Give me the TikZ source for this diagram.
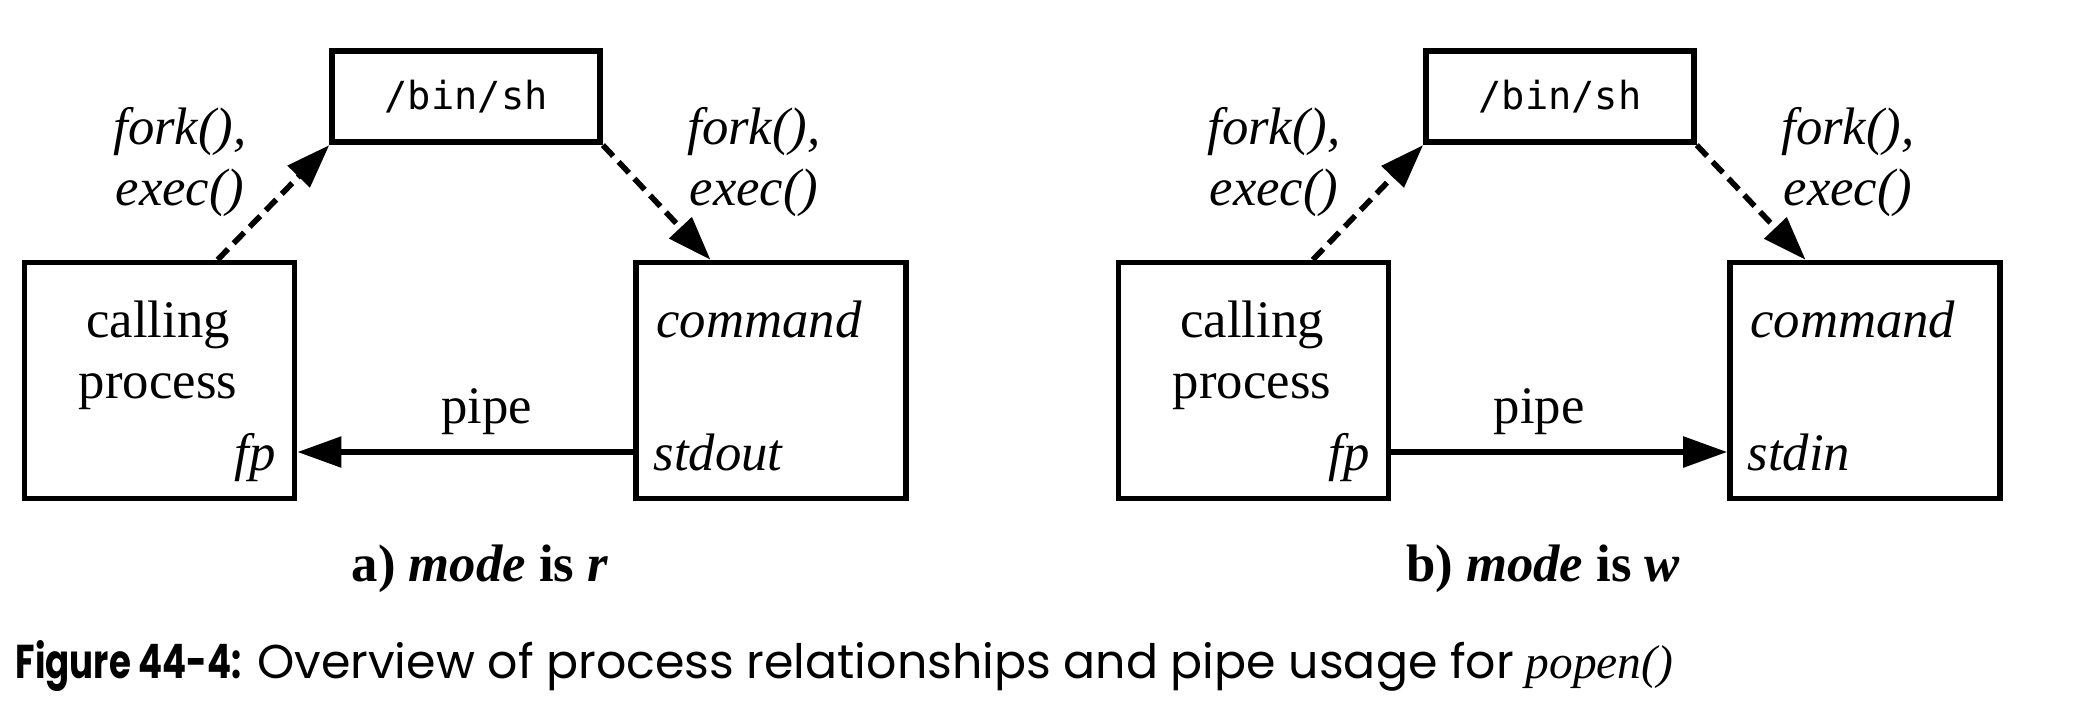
\documentclass[tikz,border=0pt]{standalone}
\usepackage{fontspec}
\setmainfont{Liberation Serif}
\setmonofont{DejaVu Sans Mono}
\newfontfamily\figfont{Poppins}
\newfontfamily\figboldfont{Poppins}[FakeStretch=0.75]
\usetikzlibrary{arrows.meta,positioning}

\begin{document}
\begin{tikzpicture}[
    procbox/.style={draw,line width=1.6pt,minimum width=2.70cm,minimum height=2.36cm,inner sep=0pt},
    shbox/.style={draw,line width=1.6pt,minimum width=2.68cm,minimum height=0.91cm,inner sep=0pt,
      font=\fontsize{11}{13}\selectfont\ttfamily},
    lbl/.style={font=\fontsize{15}{17.4}\selectfont,inner sep=0pt},
    ilbl/.style={font=\fontsize{15}{17.1}\selectfont\itshape,inner sep=0pt},
    sublbl/.style={font=\fontsize{15}{17}\selectfont\bfseries,inner sep=0pt},
    forkarrow/.style={line width=1.6pt,dash pattern=on 0.15cm off 0.08cm,
      -{Triangle[length=0.44cm,width=0.30cm]}},
    pipearrow/.style={line width=1.6pt,-{Triangle[length=0.44cm,width=0.30cm]}}
  ]
  \useasboundingbox (0,0) rectangle (20.94,7.0);

  % ---- a) mode is r ------------------------------------------
  \node[procbox] (callA) at (1.596,3.194) {};
  \node[shbox]   (shA)   at (4.661,6.032) {/bin/sh};
  \node[procbox] (cmdA)  at (7.712,3.194) {};

  % texts inside the boxes
  \node[lbl,align=center] (callAtxt) at (1.58,3.447) {calling\\process};
  \node[ilbl,anchor=base east] (fpA) at (2.764,2.30) {fp};
  \node[ilbl,anchor=base west] (cmdAtxt) at (6.557,3.63) {command};
  \node[ilbl,anchor=base west] (stdoutA) at (6.53,2.30) {stdout};

  % fork/exec arrows
  \draw[forkarrow] ([xshift=0.58cm]callA.north) -- (shA.south west);
  \draw[forkarrow] (shA.south east) -- ([xshift=-0.607cm]cmdA.north);
  \node[ilbl,align=center] (forkA1) at (1.80,5.38) {fork(),\\exec()};
  \node[ilbl,align=center] (forkA2) at (7.54,5.38) {fork(),\\exec()};

  % pipe
  \draw[pipearrow] ([yshift=-0.714cm]cmdA.west) -- ([yshift=-0.714cm]callA.east)
    node[lbl,midway,anchor=base,yshift=0.29cm,xshift=0.21cm] (pipeA) {pipe};

  \node[sublbl,anchor=base] (subA) at (4.80,1.19) {a) \textit{mode} is \textit{r}};

  % ---- b) mode is w ------------------------------------------
  \node[procbox] (callB) at (12.534,3.194) {};
  \node[shbox]   (shB)   at (15.599,6.032) {/bin/sh};
  \node[procbox] (cmdB)  at (18.650,3.194) {};

  \node[lbl,align=center] (callBtxt) at (12.52,3.447) {calling\\process};
  \node[ilbl,anchor=base east] (fpB) at (13.702,2.30) {fp};
  \node[ilbl,anchor=base west] (cmdBtxt) at (17.495,3.63) {command};
  \node[ilbl,anchor=base west] (stdinB) at (17.47,2.30) {stdin};

  \draw[forkarrow] ([xshift=0.594cm]callB.north) -- (shB.south west);
  \draw[forkarrow] (shB.south east) -- ([xshift=-0.594cm]cmdB.north);
  \node[ilbl,align=center] (forkB1) at (12.74,5.38) {fork(),\\exec()};
  \node[ilbl,align=center] (forkB2) at (18.48,5.38) {fork(),\\exec()};

  \draw[pipearrow] ([yshift=-0.714cm]callB.east) -- ([yshift=-0.714cm]cmdB.west)
    node[lbl,midway,anchor=base,yshift=0.29cm,xshift=-0.20cm] (pipeB) {pipe};

  \node[sublbl,anchor=base] (subB) at (15.43,1.19) {b) \textit{mode} is \textit{w}};

  % ---- figure caption ----------------------------------------
  \node[anchor=base west,inner sep=0pt,font=\fontsize{13.5}{16}\selectfont] (figcap) at (0.15,0.22)
    {{\figboldfont\bfseries Figure 44-4:} {\figfont Overview of process relationships and pipe usage for} \textit{popen()}};

\end{tikzpicture}
\end{document}
